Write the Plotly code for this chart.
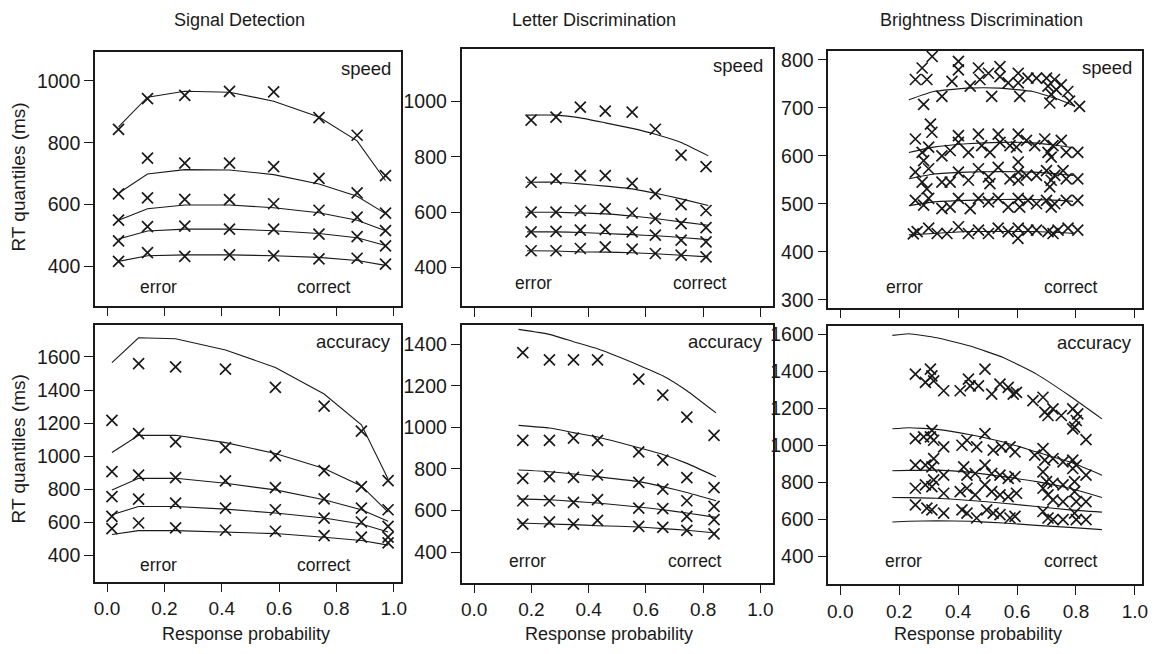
import plotly.graph_objects as go

W, H = 1164, 654

# ---------------- DATA ----------------
quantiles = ["0.1", "0.3", "0.5", "0.7", "0.9"]

# Signal detection - speed
sd_speed_p = [0.040, 0.141, 0.271, 0.427, 0.581, 0.739, 0.872, 0.971]
sd_speed_data = [
    [417, 445, 433, 438, 435, 425, 427, 408],
    [483, 529, 531, 521, 521, 505, 497, 467],
    [550, 622, 617, 616, 603, 582, 560, 516],
    [635, 750, 734, 734, 723, 685, 638, 573],
    [843, 942, 953, 966, 964, 881, 824, 694],
]
sd_speed_model = [
    [417, 435, 438, 438, 435, 430, 420, 404],
    [489, 515, 521, 521, 516, 507, 493, 468],
    [550, 587, 599, 599, 590, 574, 550, 516],
    [637, 699, 713, 712, 697, 667, 627, 571],
    [851, 947, 966, 963, 934, 883, 806, 678],
]

# Signal detection - accuracy
sd_acc_p = [0.017, 0.110, 0.239, 0.413, 0.587, 0.757, 0.887, 0.980]
sd_acc_data = [
    [562, 596, 566, 552, 546, 520, 510, 476],
    [636, 740, 716, 686, 676, 626, 602, 510],
    [756, 886, 870, 850, 810, 742, 686, 576],
    [906, 1136, 1086, 1052, 1002, 912, 816, 676],
    [1216, 1560, 1540, 1526, 1416, 1302, 1152, 852],
]
sd_acc_model = [
    [526, 550, 550, 542, 532, 510, 490, 462],
    [646, 696, 696, 680, 656, 626, 590, 542],
    [796, 866, 866, 836, 796, 736, 676, 606],
    [1022, 1126, 1126, 1082, 1016, 926, 820, 662],
    [1566, 1716, 1710, 1642, 1536, 1376, 1190, 862],
]

# Letter discrimination - speed
ld_speed_p = [0.199, 0.286, 0.371, 0.458, 0.552, 0.633, 0.723, 0.810]
ld_speed_model_p = [0.185, 0.286, 0.371, 0.458, 0.552, 0.633, 0.723, 0.818]
ld_speed_data = [
    [461, 461, 469, 475, 467, 451, 445, 439],
    [529, 531, 535, 537, 529, 517, 499, 493],
    [600, 600, 606, 612, 597, 577, 559, 544],
    [708, 720, 732, 732, 704, 666, 627, 606],
    [932, 943, 979, 964, 961, 899, 806, 764],
]
ld_speed_model = [
    [461, 460, 457, 456, 454, 450, 445, 439],
    [529, 529, 527, 523, 519, 515, 509, 501],
    [600, 600, 597, 594, 586, 577, 565, 553],
    [708, 708, 702, 694, 684, 668, 648, 624],
    [950, 950, 940, 922, 902, 881, 851, 803],
]

# Letter discrimination - accuracy
ld_acc_p = [0.170, 0.263, 0.347, 0.431, 0.575, 0.659, 0.743, 0.838]
ld_acc_model_p = [0.155, 0.263, 0.347, 0.431, 0.575, 0.659, 0.743, 0.845]
ld_acc_data = [
    [535, 545, 535, 553, 524, 519, 504, 488],
    [647, 647, 639, 652, 612, 609, 572, 556],
    [755, 763, 760, 771, 736, 703, 647, 620],
    [938, 938, 949, 938, 882, 843, 758, 710],
    [1360, 1325, 1325, 1325, 1233, 1156, 1050, 962],
]
ld_acc_model = [
    [540, 535, 532, 527, 521, 513, 505, 492],
    [656, 652, 644, 636, 617, 604, 588, 567],
    [795, 787, 776, 763, 739, 715, 687, 647],
    [1010, 997, 975, 954, 902, 870, 827, 763],
    [1472, 1448, 1413, 1379, 1300, 1249, 1177, 1070],
]

# Brightness discrimination - speed (scattered conditions)
bd_speed_x = [
    [0.261, 0.300, 0.329, 0.362, 0.401, 0.435, 0.469, 0.503, 0.536, 0.570,
     0.604, 0.637, 0.666, 0.705, 0.722, 0.739, 0.773, 0.806, 0.248, 0.603],
    [0.255, 0.283, 0.300, 0.345, 0.373, 0.401, 0.441, 0.469, 0.503, 0.536,
     0.570, 0.604, 0.609, 0.637, 0.666, 0.700, 0.716, 0.728, 0.767, 0.806],
    [0.255, 0.300, 0.278, 0.294, 0.345, 0.373, 0.401, 0.435, 0.469, 0.503,
     0.508, 0.536, 0.576, 0.604, 0.604, 0.632, 0.666, 0.700, 0.716, 0.728,
     0.756, 0.767, 0.806, 0.711],
    [0.306, 0.311, 0.255, 0.300, 0.278, 0.283, 0.345, 0.373, 0.401, 0.401,
     0.435, 0.469, 0.480, 0.508, 0.536, 0.542, 0.576, 0.604, 0.598, 0.632,
     0.660, 0.694, 0.705, 0.722, 0.750, 0.767, 0.806, 0.716, 0.604],
    [0.312, 0.278, 0.255, 0.294, 0.283, 0.345, 0.401, 0.401, 0.379, 0.441,
     0.469, 0.474, 0.503, 0.514, 0.542, 0.542, 0.570, 0.604, 0.609, 0.604,
     0.637, 0.666, 0.700, 0.705, 0.727, 0.716, 0.733, 0.750, 0.772, 0.711,
     0.778, 0.812],
]
bd_speed_y = [
    [442, 449, 438, 438, 452, 438, 445, 438, 449, 442,
     449, 445, 445, 442, 438, 445, 449, 445, 437, 428],
    [507, 497, 511, 490, 493, 511, 490, 511, 504, 511,
     493, 511, 493, 507, 500, 507, 493, 500, 507, 507],
    [566, 573, 545, 531, 545, 545, 566, 549, 573, 556,
     542, 576, 552, 566, 549, 559, 559, 569, 549, 559,
     569, 552, 552, 535],
    [666, 649, 635, 618, 607, 590, 600, 611, 642, 628,
     607, 645, 621, 607, 645, 628, 621, 645, 618, 632,
     621, 635, 607, 621, 632, 607, 607, 597, 587],
    [807, 783, 759, 759, 707, 724, 797, 779, 755, 745,
     783, 759, 772, 724, 786, 765, 752, 772, 724, 752,
     762, 762, 762, 745, 759, 728, 738, 748, 734, 710,
     714, 703],
]
bd_speed_model_p = [0.233, 0.317, 0.430, 0.542, 0.654, 0.744, 0.790]
bd_speed_model = [
    [435, 438, 442, 442, 442, 440, 438],
    [496, 504, 507, 509, 509, 507, 505],
    [552, 562, 566, 567, 566, 562, 559],
    [607, 618, 625, 628, 627, 621, 617],
    [717, 734, 741, 741, 734, 717, 705],
]

# Brightness discrimination - accuracy
bd_acc_x = [
    [0.255, 0.294, 0.311, 0.351, 0.413, 0.430, 0.463, 0.497, 0.519, 0.542,
     0.576, 0.593, 0.688, 0.705, 0.722, 0.756, 0.795, 0.801, 0.834],
    [0.255, 0.289, 0.311, 0.317, 0.351, 0.407, 0.430, 0.458, 0.491, 0.514,
     0.542, 0.570, 0.598, 0.688, 0.705, 0.722, 0.756, 0.795, 0.801, 0.834],
    [0.255, 0.289, 0.317, 0.311, 0.351, 0.419, 0.430, 0.458, 0.491, 0.514,
     0.542, 0.570, 0.593, 0.688, 0.700, 0.722, 0.756, 0.789, 0.795, 0.834],
    [0.255, 0.283, 0.311, 0.306, 0.317, 0.351, 0.413, 0.430, 0.463, 0.491,
     0.519, 0.547, 0.576, 0.593, 0.660, 0.688, 0.694, 0.722, 0.756, 0.789,
     0.801],
    [0.255, 0.306, 0.311, 0.289, 0.317, 0.351, 0.407, 0.435, 0.441, 0.469,
     0.491, 0.514, 0.542, 0.570, 0.587, 0.598, 0.654, 0.688, 0.694, 0.722,
     0.705, 0.750, 0.789, 0.801, 0.795, 0.806, 0.834, 0.789],
]
bd_acc_y = [
    [677, 659, 650, 632, 650, 632, 606, 650, 632, 624,
     606, 615, 641, 606, 597, 597, 632, 597, 597],
    [767, 785, 776, 812, 740, 749, 767, 731, 785, 749,
     731, 722, 740, 767, 731, 704, 695, 749, 695, 695],
    [892, 892, 928, 883, 838, 883, 838, 847, 892, 847,
     838, 821, 830, 856, 803, 794, 785, 874, 803, 838],
    [1036, 1045, 1080, 1045, 1027, 991, 1000, 1027, 991, 1063,
     973, 991, 991, 964, 946, 982, 919, 928, 910, 919,
     892],
    [1385, 1412, 1376, 1340, 1349, 1295, 1295, 1358, 1322, 1322,
     1412, 1277, 1331, 1313, 1277, 1286, 1242, 1260, 1179, 1197,
     1161, 1161, 1197, 1134, 1098, 1170, 1030, 1089],
]
bd_acc_model_p = [0.177, 0.233, 0.328, 0.441, 0.553, 0.666, 0.778, 0.888]
bd_acc_model = [
    [584, 588, 591, 588, 579, 566, 555, 543],
    [717, 716, 713, 701, 686, 668, 650, 638],
    [862, 864, 865, 853, 830, 803, 767, 717],
    [1089, 1095, 1086, 1057, 1018, 964, 910, 838],
    [1595, 1604, 1582, 1537, 1475, 1385, 1268, 1143],
]

col_titles = ["Signal Detection", "Letter Discrimination", "Brightness Discrimination"]
row_labels = ["speed", "accuracy"]
x_ticks = [0.0, 0.2, 0.4, 0.6, 0.8, 1.0]
x_ticktext = ["0.0", "0.2", "0.4", "0.6", "0.8", "1.0"]
y_tick_sets = [
    [400, 600, 800, 1000],
    [400, 600, 800, 1000],
    [300, 400, 500, 600, 700, 800],
    [400, 600, 800, 1000, 1200, 1400, 1600],
    [400, 600, 800, 1000, 1200, 1400],
    [400, 600, 800, 1000, 1200, 1400, 1600],
]

# ---------------- LAYOUT GEOMETRY (pixels) ----------------
panels = [
    dict(box=(94.5, 402, 50, 306), xr=(-0.0423, 1.0236), yr=(274, 1094)),
    dict(box=(463.3, 777, 47.3, 306.7), xr=(-0.0441, 1.0451), yr=(260.5, 1188.5)),
    dict(box=(832.3, 1148, 49.3, 308), xr=(-0.0405, 1.0243), yr=(283.4, 818.6)),
    dict(box=(94.5, 402, 325, 584), xr=(-0.0423, 1.0236), yr=(242, 1796)),
    dict(box=(463.3, 777, 325, 585), xr=(-0.0441, 1.0451), yr=(253.3, 1495.6)),
    dict(box=(832.3, 1148, 326, 586.7), xr=(-0.0405, 1.0243), yr=(247.3, 1648.4)),
]

FONT = "Liberation Sans, Arial, Helvetica, sans-serif"
INK = "#1a1a1a"

fig = go.Figure()

def px_x(p):
    return p / W

def px_y(p):
    return 1 - p / H

def add_data(idx, xs_list, ys_list):
    ax = "" if idx == 0 else str(idx + 1)
    for xs, ys in zip(xs_list, ys_list):
        fig.add_trace(go.Scatter(
            x=xs, y=ys, mode="markers", xaxis="x" + ax, yaxis="y" + ax,
            marker=dict(symbol="x-thin", size=11, color=INK,
                        line=dict(width=1.7, color=INK)),
            showlegend=False, hoverinfo="skip"))

def add_model(idx, xs, ys_list, smooth):
    ax = "" if idx == 0 else str(idx + 1)
    for ys in ys_list:
        line = dict(color=INK, width=1.1)
        if smooth:
            line.update(shape="spline", smoothing=0.4)
        fig.add_trace(go.Scatter(
            x=xs, y=ys, mode="lines", xaxis="x" + ax, yaxis="y" + ax,
            line=line, showlegend=False, hoverinfo="skip"))

add_model(0, sd_speed_p, sd_speed_model, False)
add_data(0, [sd_speed_p] * 5, sd_speed_data)
add_model(1, ld_speed_model_p, ld_speed_model, True)
add_data(1, [ld_speed_p] * 5, ld_speed_data)
add_model(2, bd_speed_model_p, bd_speed_model, True)
add_data(2, bd_speed_x, bd_speed_y)
add_model(3, sd_acc_p, sd_acc_model, False)
add_data(3, [sd_acc_p] * 5, sd_acc_data)
add_model(4, ld_acc_model_p, ld_acc_model, True)
add_data(4, [ld_acc_p] * 5, ld_acc_data)
add_model(5, bd_acc_model_p, bd_acc_model, True)
add_data(5, bd_acc_x, bd_acc_y)

layout = dict(
    width=W, height=H, margin=dict(l=0, r=0, t=0, b=0),
    paper_bgcolor="white", plot_bgcolor="white",
    font=dict(family=FONT, size=18, color=INK),
    showlegend=False,
)

for i, p in enumerate(panels):
    l, r, t, b = p["box"]
    ax = "" if i == 0 else str(i + 1)
    bottom_row = i >= 3
    layout["xaxis" + ax] = dict(
        domain=[px_x(l), px_x(r)], range=list(p["xr"]),
        anchor="y" + ax, tickvals=x_ticks, ticktext=x_ticktext,
        showticklabels=bottom_row, ticks="outside", ticklen=9, tickwidth=1.2,
        tickcolor=INK, showline=True, mirror=True, linecolor=INK, linewidth=1.5,
        showgrid=False, zeroline=False, tickfont=dict(size=19),
    )
    layout["yaxis" + ax] = dict(
        domain=[px_y(b), px_y(t)], range=list(p["yr"]),
        anchor="x" + ax, tickvals=y_tick_sets[i],
        ticks="outside", ticklen=9, tickwidth=1.2, tickcolor=INK,
        showline=True, mirror=True, linecolor=INK, linewidth=1.5,
        showgrid=False, zeroline=False, tickfont=dict(size=19.5),
    )

fig.update_layout(**layout)

ann = []
def text(t, x, y, xanchor="center", size=18, angle=0):
    ann.append(dict(text=t, x=px_x(x), y=px_y(y), xref="paper", yref="paper",
                    xanchor=xanchor, yanchor="middle", showarrow=False,
                    textangle=angle, font=dict(family=FONT, size=size, color=INK)))

for t, cx in zip(col_titles, [240, 597, 986]):
    text(t, cx, 18)

for i, p in enumerate(panels):
    l, r, t, b = p["box"]
    lab = row_labels[0] if i < 3 else row_labels[1]
    text(lab, r - 8, t + 17, xanchor="right", size=18.5)

err_pos = [(158, 287), (536, 283), (909, 287), (158, 567), (530, 563), (908, 563)]
cor_pos = [(325, 287), (703, 283), (1076, 287), (325, 567), (698, 563), (1076, 563)]
for (ex, ey), (cx, cy) in zip(err_pos, cor_pos):
    text("error", ex, ey, size=17.5)
    text("correct", cx, cy, size=17.5)

text("RT quantiles (ms)", 18, 176, angle=-90, size=19)
text("RT quantiles (ms)", 18, 450, angle=-90, size=19)
for cx in [246, 612, 983]:
    text("Response probability", cx, 637)

fig.update_layout(annotations=ann)
fig.write_html("out.html")
